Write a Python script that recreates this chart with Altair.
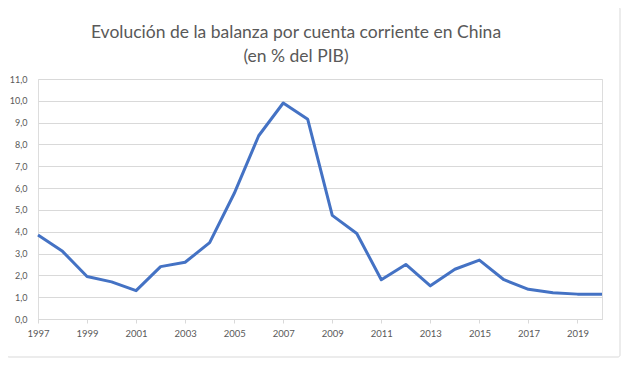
import altair as alt
import pandas as pd

years = list(range(1997, 2021))
values = [3.85, 3.1, 1.95, 1.7, 1.3, 2.4, 2.6, 3.5, 5.75, 8.4, 9.9, 9.15, 4.75,
          3.92, 1.8, 2.5, 1.52, 2.28, 2.7, 1.8, 1.36, 1.2, 1.14, 1.13]
title_lines = ["Evolución de la balanza por cuenta corriente en China", "(en % del PIB)"]
x_ticks = list(range(1997, 2020, 2))
y_ticks = [i for i in range(0, 12)]

df = pd.DataFrame({"year": years, "value": values})

FONT = "Lato"
GREY = "#595959"

line = alt.Chart(df).mark_line(color="#4472C4", strokeWidth=3, strokeJoin="round").encode(
    x=alt.X("year:Q", scale=alt.Scale(domain=[1997, 2020], nice=False, zero=False),
            axis=alt.Axis(values=x_ticks, format="d", title=None, grid=False,
                          domainColor="#d9d9d9", tickColor="#d9d9d9", tickSize=4,
                          labelFlush=False, labelBound=False,
                          labelColor=GREY, labelFont=FONT, labelFontSize=9.5, labelPadding=5)),
    y=alt.Y("value:Q", scale=alt.Scale(domain=[0, 11], nice=False),
            axis=alt.Axis(values=y_ticks, title=None, domain=False, ticks=False,
                          gridColor="#d9d9d9", gridWidth=1,
                          labelExpr="replace(format(datum.value, '.1f'), '.', ',')",
                          labelColor=GREY, labelFont=FONT, labelFontSize=9, labelPadding=11)),
)

border = alt.Chart(pd.DataFrame({"k": [0]})).mark_rect(
    fill=None, stroke="#d9d9d9", strokeWidth=1, cornerRadius=2
).encode(
    x=alt.value(-31), x2=alt.value(582), y=alt.value(-72), y2=alt.value(278)
)

chart = alt.layer(border, line).properties(
    width=564, height=240,
    padding={"left": 30, "top": 71, "right": 20, "bottom": 40},
    autosize=alt.AutoSizeParams(type="none"),
    title=alt.TitleParams(title_lines, font=FONT, fontSize=17.5, fontWeight="normal",
                          color=GREY, anchor="middle", lineHeight=24, offset=-59, dx=-24),
).configure_view(stroke=None).configure(background="white")

chart.save("out.html", embed_options={"renderer": "svg", "actions": False})
